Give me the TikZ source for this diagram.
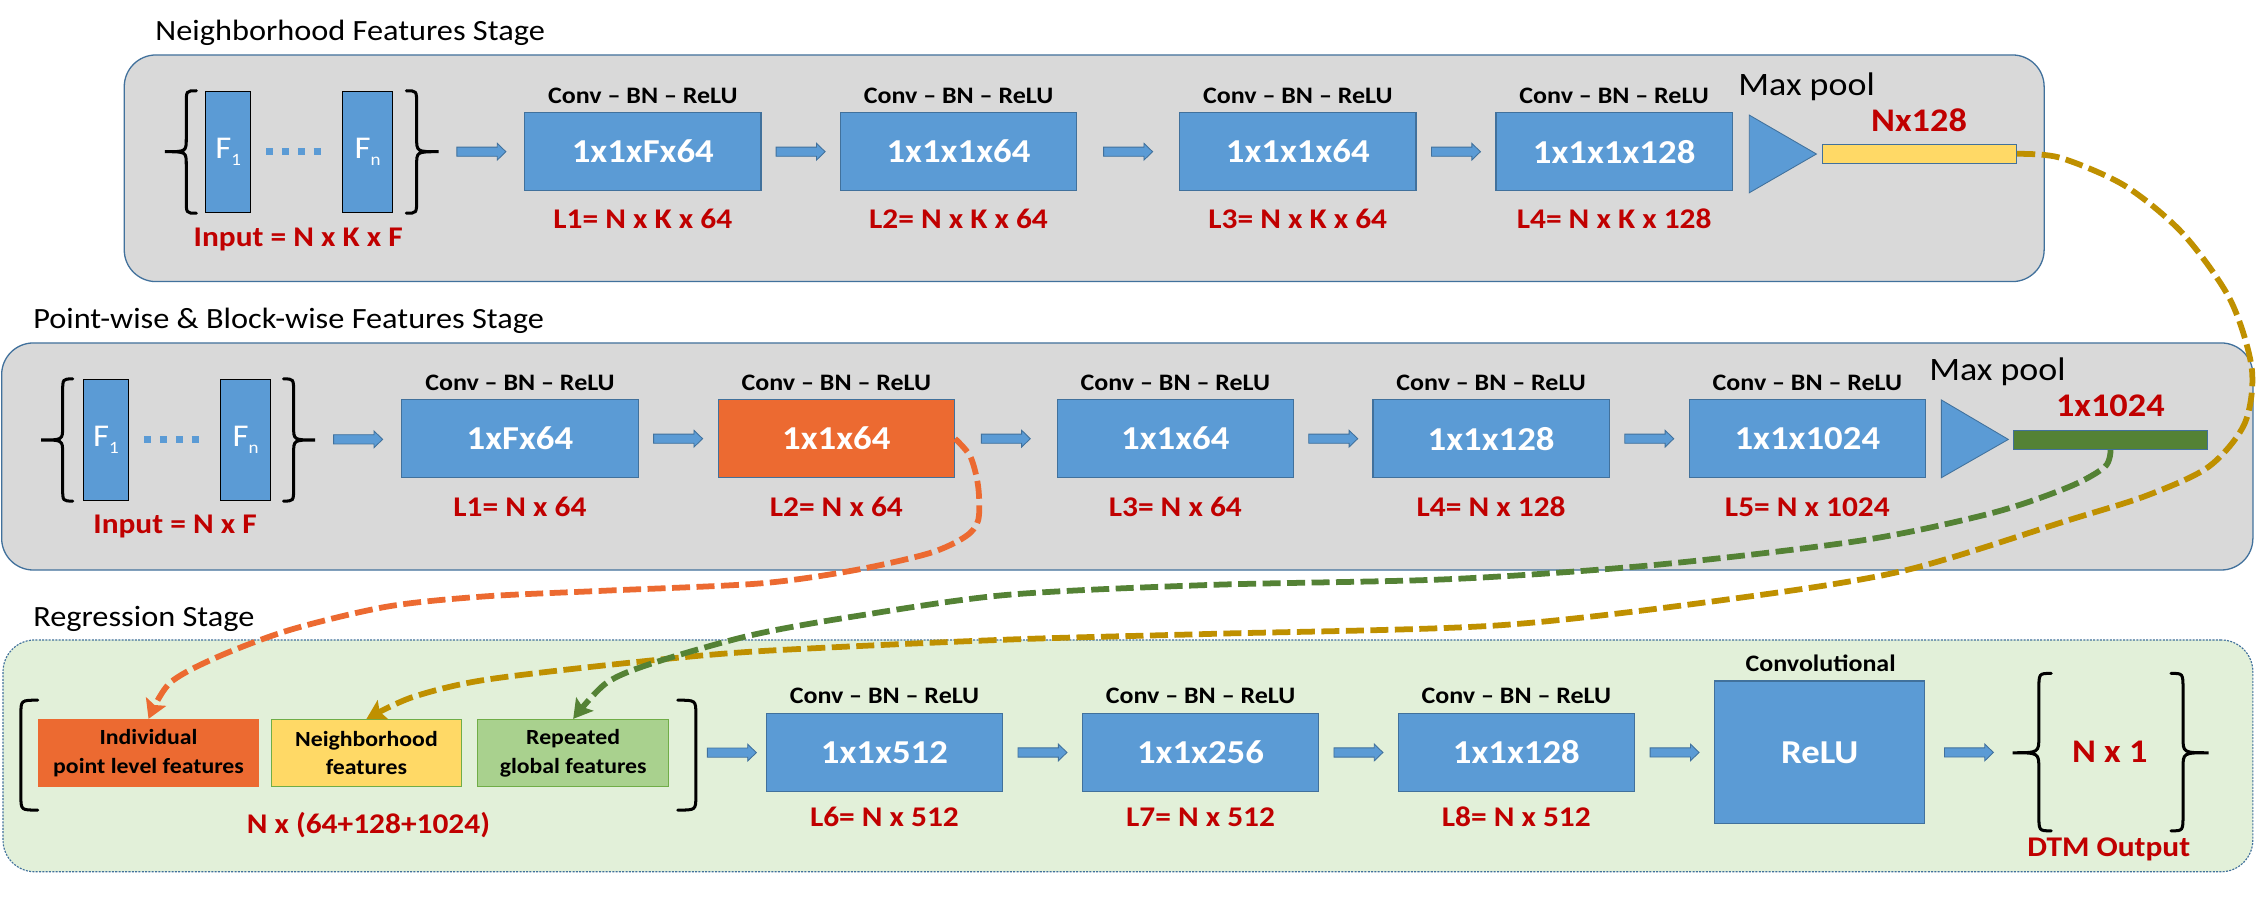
\documentclass[tikz,border=0pt]{standalone}
\usepackage{fontspec}
\setmainfont{Carlito}[FakeStretch=1.1]
\usetikzlibrary{calc,arrows.meta}
\definecolor{boxblue}{HTML}{5B9BD5}
\definecolor{edgeblue}{HTML}{41719C}
\definecolor{panelgray}{HTML}{D9D9D9}
\definecolor{panelgreen}{HTML}{E2F0D9}
\definecolor{lblred}{HTML}{C00000}
\definecolor{orng}{HTML}{EC6A31}
\definecolor{gold}{HTML}{BF9000}
\definecolor{ylw}{HTML}{FFD966}
\definecolor{dgreen}{HTML}{548235}
\definecolor{lgreen}{HTML}{A9D18E}
\definecolor{mgreen}{HTML}{70AD47}
\tikzset{
  panel/.style={draw=edgeblue, line width=0.9pt, fill=panelgray, rounded corners=22pt, anchor=north west, inner sep=0pt},
  gpanel/.style={panel, fill=panelgreen, dash pattern=on 1.4pt off 0.9pt, line width=0.8pt},
  stagetitle/.style={anchor=base west, inner sep=0pt, font=\fontsize{20.4}{24}\selectfont},
  bluebox/.style={draw=edgeblue, line width=0.8pt, fill=boxblue, text=white, inner sep=0pt,
     minimum width=164pt, minimum height=54pt, font=\fontsize{23.2}{28}\selectfont\bfseries},
  orangebox/.style={bluebox, fill=orng},
  convlbl/.style={anchor=base, inner sep=0pt, font=\fontsize{16.4}{20}\selectfont\bfseries},
  redlbl/.style={anchor=base, inner sep=0pt, text=lblred, font=\fontsize{19.8}{24}\selectfont\bfseries},
  bigred/.style={redlbl, font=\fontsize{22.9}{28}\selectfont\bfseries},
  poollbl/.style={anchor=base west, inner sep=0pt, font=\fontsize{22.7}{27}\selectfont},
  frect/.style={draw=black, line width=0.8pt, fill=boxblue, text=white, inner sep=0pt, minimum height=84pt,
     font=\fontsize{22}{26}\selectfont},
  dotrow/.style={draw=boxblue, line width=5pt, dash pattern=on 5pt off 6pt},
  bracestyle/.style={draw=black, line width=2.1pt, line cap=round},
  blockarrow/.style={fill=boxblue, draw=edgeblue, line width=0.6pt},
  featbox/.style={line width=0.8pt, inner sep=0pt, minimum height=46.7pt, align=center,
     font=\fontsize{15}{19.7}\selectfont\bfseries},
  bar/.style={draw=edgeblue, line width=0.7pt, inner sep=0pt, minimum width=134.7pt, minimum height=13.1pt},
  pooltri/.style={fill=boxblue, draw=edgeblue, line width=0.6pt},
  flow/.style={line width=4pt, dash pattern=on 12.5pt off 4.5pt, -{Stealth[length=13pt,width=15pt,inset=2.5pt]}}
}
\newcommand\FOne{F\raisebox{-5pt}{\fontsize{12}{12}\selectfont 1}}
\newcommand\FEn{F\raisebox{-5pt}{\fontsize{12}{12}\selectfont n}}
% brace: #1 hook x, #2 tip x, #3 top y, #4 bottom y, #5 middle y
\newcommand\MyBrace[5]{%
  \pgfmathsetmacro\bxm{#1+0.32*(#2-#1)}%
  \pgfmathsetmacro\bw{0.42*abs(#2-#1)}%
  \draw[bracestyle] (#1,#3) .. controls (\bxm,#3) .. (\bxm,#3+\bw) -- (\bxm,#5-\bw)
     .. controls (\bxm,#5) .. (#2,#5) .. controls (\bxm,#5) .. (\bxm,#5+\bw)
     -- (\bxm,#4-\bw) .. controls (\bxm,#4) .. (#1,#4);}
% paren: #1 hook x, #2 line x, #3 top y, #4 bottom y
\newcommand\MyParen[4]{%
  \draw[bracestyle] (#1,#3) .. controls (#2,#3) .. (#2,#3+10) -- (#2,#4-10) .. controls (#2,#4) .. (#1,#4);}
\newcommand\BArrow[2]{%
  \path ($(#1)!0.5!(#2)$) coordinate (am);
  \filldraw[blockarrow] ($(am)+(-17,-3.2)$) -- ($(am)+(11,-3.2)$) -- ($(am)+(11,-5.8)$) -- ($(am)+(17,0)$)
     -- ($(am)+(11,5.8)$) -- ($(am)+(11,3.2)$) -- ($(am)+(-17,3.2)$) -- cycle;}
\begin{document}
\begin{tikzpicture}[x=1pt,y=-1pt]
\useasboundingbox (0,0) rectangle (1568,623);
\fill[white] (0,0) rectangle (1568,623);

% ---------- panels ----------
\node[panel, minimum width=1332.6pt, minimum height=157.3pt] (p1) at (85.8,37.7) {};
\node[panel, minimum width=1562.6pt, minimum height=157.6pt] (p2) at (0.7,237.6) {};
\node[gpanel, minimum width=1561.6pt, minimum height=160.9pt] (p3) at (1.7,443.8) {};

\node[stagetitle] (t1) at (107.7,27.8) {Neighborhood Features Stage};
\node[stagetitle] (t2) at (22.9,227.9) {Point-wise \& Block-wise Features Stage};
\node[stagetitle] (t3) at (22.9,435) {Regression Stage};

% ---------- stage 1 ----------
\node[frect, minimum width=31.3pt] (tf1) at (158.35,105.4) {\FOne};
\node[frect, minimum width=34.6pt] (tfn) at (255.2,105.4) {\FEn};
\draw[dotrow] (184.7,105.3) -- (223,105.3);
\MyBrace{136.3}{114.4}{63}{148}{105.3}
\MyBrace{282}{304.5}{63}{148}{105.3}
\coordinate (tin) at (304.5,105.3);
\node[redlbl] (tinl) at (207,171.3) {Input = N x K x F};

\node[bluebox] (tb1) at (446.2,105.3) {1x1xFx64};
\node[bluebox] (tb2) at (665.3,105.3) {1x1x1x64};
\node[bluebox] (tb3) at (900.8,105.3) {1x1x1x64};
\node[bluebox] (tb4) at (1120.4,105.3) {1x1x1x128};
\node[convlbl] (tc1) at (446.2,71.8) {Conv – BN – ReLU};
\node[convlbl] (tc2) at (665.3,71.8) {Conv – BN – ReLU};
\node[convlbl] (tc3) at (900.8,71.8) {Conv – BN – ReLU};
\node[convlbl] (tc4) at (1120.4,71.8) {Conv – BN – ReLU};
\node[redlbl] (tl1) at (446.2,158.6) {L1= N x K x 64};
\node[redlbl] (tl2) at (665.3,158.6) {L2= N x K x 64};
\node[redlbl] (tl3) at (900.8,158.6) {L3= N x K x 64};
\node[redlbl] (tl4) at (1120.4,158.6) {L4= N x K x 128};
\BArrow{tin}{tb1.west}
\BArrow{tb1.east}{tb2.west}
\BArrow{tb2.east}{tb3.west}
\BArrow{tb3.east}{tb4.west}
\filldraw[pooltri] (1214.2,79.9) -- (1260.8,106.9) -- (1214.2,133.8) -- cycle;
\node[poollbl] (tmp) at (1206.4,66.4) {Max pool};
\node[bigred] (tnx) at (1332,91.4) {Nx128};
\node[bar, fill=ylw] (ybar) at (1332.45,106.8) {};

% ---------- stage 2 ----------
\node[frect, minimum width=31.3pt] (mf1) at (73.55,305.3) {\FOne};
\node[frect, minimum width=34.7pt] (mfn) at (170.45,305.3) {\FEn};
\draw[dotrow] (100,305.3) -- (139,305.3);
\MyBrace{50.5}{28.6}{263}{347.8}{305.4}
\MyBrace{196.8}{218.7}{263}{347.8}{305.4}
\coordinate (min) at (218.7,305.4);
\node[redlbl] (minl) at (121.5,370.2) {Input = N x F};

\node[bluebox] (mb1) at (360.9,304.5) {1xFx64};
\node[orangebox] (mb2) at (580.5,304.5) {1x1x64};
\node[bluebox] (mb3) at (815.8,304.5) {1x1x64};
\node[bluebox] (mb4) at (1035,304.5) {1x1x128};
\node[bluebox] (mb5) at (1254.5,304.5) {1x1x1024};
\node[convlbl] (mc1) at (360.9,271.2) {Conv – BN – ReLU};
\node[convlbl] (mc2) at (580.5,271.2) {Conv – BN – ReLU};
\node[convlbl] (mc3) at (815.8,271.2) {Conv – BN – ReLU};
\node[convlbl] (mc4) at (1035,271.2) {Conv – BN – ReLU};
\node[convlbl] (mc5) at (1254.5,271.2) {Conv – BN – ReLU};
\node[redlbl] (ml1) at (360.9,358.2) {L1= N x 64};
\node[redlbl] (ml2) at (580.5,358.2) {L2= N x 64};
\node[redlbl] (ml3) at (815.8,358.2) {L3= N x 64};
\node[redlbl] (ml4) at (1035,358.2) {L4= N x 128};
\node[redlbl] (ml5) at (1254.5,358.2) {L5= N x 1024};
\BArrow{min}{mb1.west}
\BArrow{mb1.east}{mb2.west}
\BArrow{mb2.east}{mb3.west}
\BArrow{mb3.east}{mb4.west}
\BArrow{mb4.east}{mb5.west}
\filldraw[pooltri] (1347.5,277.6) -- (1394,305) -- (1347.5,331.6) -- cycle;
\node[poollbl] (mmp) at (1338.9,264.4) {Max pool};
\node[bigred] (mnx) at (1464.8,289.2) {1x1024};
\node[bar, fill=dgreen] (gbar) at (1464.95,305.4) {};

% ---------- stage 3 ----------
\MyParen{26.2}{14.5}{486}{562.3}
\MyParen{470.4}{483}{486}{562.3}
\node[featbox, draw=orng, fill=orng, minimum width=152.4pt] (ind) at (103.1,522.75) {Individual\\point level features};
\node[featbox, draw=mgreen, fill=ylw, minimum width=131.9pt] (nb) at (254.35,522.75) {Neighborhood\\features};
\node[featbox, draw=mgreen, fill=lgreen, minimum width=132.9pt] (rep) at (397.85,522.75) {Repeated\\global features};
\coordinate (rin) at (484.5,522.5);
\node[redlbl] (rsum) at (255.7,578.5) {N x (64+128+1024)};

\node[bluebox] (rb6) at (613.9,522.3) {1x1x512};
\node[bluebox] (rb7) at (833.3,522.3) {1x1x256};
\node[bluebox] (rb8) at (1052.5,522.3) {1x1x128};
\node[convlbl] (rc6) at (613.9,488.2) {Conv – BN – ReLU};
\node[convlbl] (rc7) at (833.3,488.2) {Conv – BN – ReLU};
\node[convlbl] (rc8) at (1052.5,488.2) {Conv – BN – ReLU};
\node[redlbl] (rl6) at (613.9,573.9) {L6= N x 512};
\node[redlbl] (rl7) at (833.3,573.9) {L7= N x 512};
\node[redlbl] (rl8) at (1052.5,573.9) {L8= N x 512};
\node[bluebox, minimum width=145.8pt, minimum height=99.1pt] (relu) at (1263.1,522.25) {ReLU};
\node[convlbl] (rconv) at (1263.7,466.3) {Convolutional};
\MyBrace{1423.8}{1396.9}{467.4}{576.7}{522.5}
\MyBrace{1506.9}{1533}{467.4}{576.7}{522.5}
\coordinate (rout) at (1396.9,522.3);
\node[bigred] (rn1) at (1464.4,529.5) {N x 1};
\node[redlbl] (rdtm) at (1463.7,594.7) {DTM Output};
\BArrow{rin}{rb6.west}
\BArrow{rb6.east}{rb7.west}
\BArrow{rb7.east}{rb8.west}
\BArrow{rb8.east}{relu.west}
\BArrow{relu.east}{rout}

% ---------- dashed feature connectors ----------
\draw[flow, draw=gold, color=gold] plot[smooth, tension=0.5] coordinates {(ybar.east) (1430,109.5) (1475,129) (1515,162) (1548,208) (1563,256) (1558,294) (1533,324) (1490,344) (1436,361) (1322,396) (1207,415) (1041,434) (840,440) (698,444) (527,452) (437,460) (336,472) (286,484) (nb.north)};
\draw[flow, draw=dgreen, color=dgreen] plot[smooth, tension=0.5] coordinates {(gbar.south) (1461,324) (1436,338) (1383,356) (1293,375) (1150,392) (1006,402) (840,406) (698,413) (592,428) (521,441) (454,460) (421,474) (rep.north)};
\draw[flow, draw=orng, color=orng] plot[smooth, tension=0.5] coordinates {(mb2.east) (673.6,317) (679,338) (679,361) (670,372.5) (645,384) (592,396) (527,405) (420,410) (336,414) (269,421) (202,437) (151,456) (118,474) (ind.north)};
\end{tikzpicture}
\end{document}
